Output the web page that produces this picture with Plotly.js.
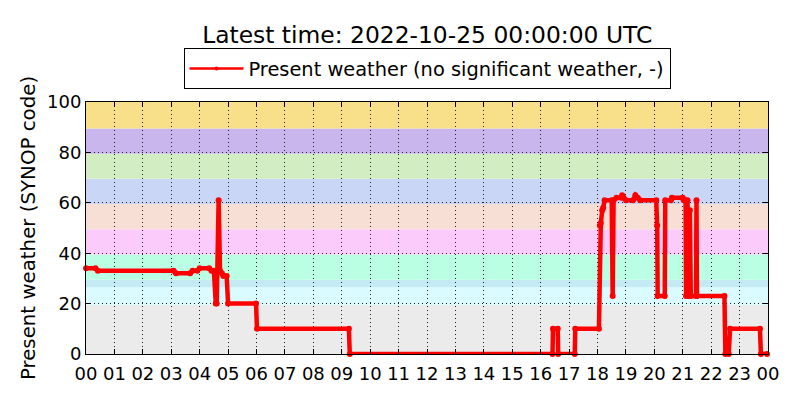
<!DOCTYPE html>
<html>
<head>
<meta charset="utf-8">
<script src="https://cdn.plot.ly/plotly-3.0.1.min.js"></script>
<style>html,body{margin:0;padding:0;background:#fff;}#chart{width:800px;height:400px;}</style>
</head>
<body>
<div id="chart"></div>
<script>
// Observation times (2022-10-24, UTC) and present-weather SYNOP codes
var times = [
  "00:00","00:20","00:25","03:05","03:10","03:40","03:45","03:55","04:00","04:20",
  "04:25","04:30","04:34","04:36","04:40","04:43","04:47","04:50","04:57","05:00",
  "05:59","06:01","09:15","09:17","16:25","16:26","16:36","16:37","17:12","17:13",
  "18:03","18:05","18:07","18:10","18:12","18:15","18:30","18:32","18:34","18:40",
  "18:50","18:52","18:55","19:00","19:15","19:20","19:25","19:30","20:04","20:06",
  "20:07","20:22","20:23","20:35","20:37","21:00","21:02","21:06","21:07","21:10",
  "21:12","21:15","21:17","21:28","21:29","21:30","22:28","22:30","22:37","22:40",
  "23:43","23:45","23:58"
];
var codes = [
  34,34,33,33,32,32,33,33,34,34,
  33,33,20,20,61,33,32,31,31,20,
  20,10,10,0,0,10,10,0,0,10,
  10,51,52,57,58,61,61,23,61,62,
  62,63,62,61,61,63,62,61,61,51,
  23,23,61,61,62,62,61,61,23,61,
  23,57,23,23,61,23,23,0,0,10,
  10,0,0
];
var seriesName = "Present weather (no significant weather, -)";
var titleText = "Latest time: 2022-10-25 00:00:00 UTC";
var yTitle = "Present weather (SYNOP code)";
var dayStr = "2022-10-24";
var nextDayStr = "2022-10-25";
// SYNOP code category bands
var bandEdges = [0, 19.5, 26.5, 29.5, 39.5, 49.5, 59.5, 69.5, 79.5, 89.5, 100];
var bandColors = ["#ebebeb","#dafbff","#c4eaf3","#baffe4","#fbcbfb","#f8dfd6","#c9d6f5","#d3edc2","#c8b6ed","#f8df8a"];

var xs = times.map(function(t){ return dayStr + " " + t; });

var shapes = [];
for (var i = 0; i < bandColors.length; i++) {
  shapes.push({type:"rect", xref:"paper", x0:0, x1:1, yref:"y",
    y0:bandEdges[i], y1:bandEdges[i+1], fillcolor:bandColors[i],
    line:{width:0}, layer:"below"});
}

var font = "DejaVu Sans, Liberation Sans, sans-serif";
var trace = {
  x: xs, y: codes, type: "scatter", mode: "lines+markers",
  name: seriesName,
  line: {color: "#ff0000", width: 4.5},
  marker: {color: "#ff0000", size: 6},
  cliponaxis: false,
  showlegend: false
};
// legend entry drawn with the thinner line/marker style seen in the reference
var legendTrace = {
  x: [null], y: [null], type: "scatter", mode: "lines+markers",
  name: seriesName,
  line: {color: "#ff0000", width: 2.5},
  marker: {color: "#ff0000", size: 4},
  showlegend: true
};

var layout = {
  width: 800, height: 400,
  margin: {l: 86, r: 32, t: 102, b: 46},
  paper_bgcolor: "#ffffff", plot_bgcolor: "#ffffff",
  font: {family: font, color: "#000", size: 18},
  title: {text: titleText, font: {family: font, size: 23.4, color: "#000"},
          x: 0.534, xanchor: "center", xref: "container", y: 0.9125, yanchor: "middle", yref: "container"},
  showlegend: true,
  legend: {x: 0.5, xanchor: "center", y: 1.05, yanchor: "bottom",
           bordercolor: "#000", borderwidth: 1, bgcolor: "#fff", itemwidth: 54,
           font: {family: font, size: 19.4, color: "#000"}},
  xaxis: {
    type: "date",
    range: [dayStr + " 00:00", nextDayStr + " 00:00"],
    dtick: 3600000, tick0: dayStr + " 00:00", tickformat: "%H",
    showgrid: true, gridcolor: "#222", griddash: "1px,3px", gridwidth: 1,
    showline: true, linecolor: "#000", linewidth: 1, mirror: "allticks",
    ticks: "inside", ticklen: 5, tickcolor: "#000", ticklabelstandoff: 3,
    tickfont: {family: font, size: 18, color: "#000"},
    zeroline: false, fixedrange: true
  },
  yaxis: {
    range: [0, 100], dtick: 20, tick0: 0,
    showgrid: true, gridcolor: "#222", griddash: "1px,3px", gridwidth: 1,
    showline: true, linecolor: "#000", linewidth: 1, mirror: "allticks",
    ticks: "inside", ticklen: 5, tickcolor: "#000",
    tickfont: {family: font, size: 18, color: "#000"},
    title: {text: yTitle, font: {family: font, size: 19.8, color: "#000"}, standoff: 6},
    zeroline: false, fixedrange: true
  },
  shapes: shapes
};

Plotly.newPlot("chart", [trace, legendTrace], layout, {displayModeBar: false, staticPlot: true});
</script>
</body>
</html>
